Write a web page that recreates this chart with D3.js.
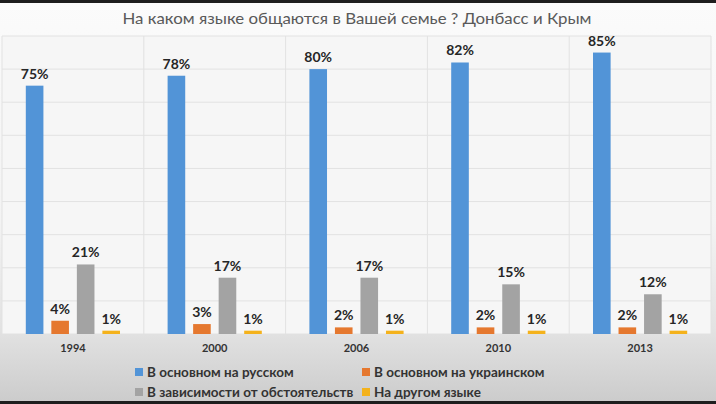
<!DOCTYPE html>
<html>
<head>
<meta charset="utf-8">
<script src="https://cdn.jsdelivr.net/npm/d3@7"></script>
<style>
  body { margin: 0; padding: 0; background: #222; }
  svg { display: block; }
</style>
</head>
<body>
<div id="chart"></div>
<script>
// Data
const title = "На каком языке общаются в Вашей семье ? Донбасс и Крым";
const years = ["1994", "2000", "2006", "2010", "2013"];
const seriesNames = ["В основном на русском", "В основном на украинском", "В зависимости от обстоятельств", "На другом языке"];
const russian = [75, 78, 80, 82, 85];
const ukrainian = [4, 3, 2, 2, 2];
const depends = [21, 17, 17, 15, 12];
const other = [1, 1, 1, 1, 1];
const colors = ["#5294d7", "#e5782f", "#a3a3a3", "#f4b21c"];
const yTicks = [0, 10, 20, 30, 40, 50, 60, 70, 80, 90];

const allSeries = [russian, ukrainian, depends, other];

// Build rows for drawing
let rows = years.map(function (y, i) {
  return {
    year: y,
    values: allSeries.map(function (s, k) { return { key: k, value: s[i] } })
  }
})

const width = 716;
const height = 404;
const plotLeft = 2, plotRight = 711, plotTop = 36, plotBottom = 334;

const svg = d3.select("#chart")
  .append("svg")
  .attr("width", width)
  .attr("height", height)

// background gradient
let defs = svg.append("defs")
let grad = defs.append("linearGradient")
  .attr("id", "bg")
  .attr("x1", 0).attr("y1", 0).attr("x2", 0).attr("y2", 1)
grad.append("stop").attr("offset", "0%").attr("stop-color", "#fbfbfb")
grad.append("stop").attr("offset", "55%").attr("stop-color", "#f3f3f3")
grad.append("stop").attr("offset", "82%").attr("stop-color", "#e2e2e2")
grad.append("stop").attr("offset", "100%").attr("stop-color", "#cbcbcb")

svg.append("rect")
  .attr("x", 0).attr("y", 0)
  .attr("width", width).attr("height", height)
  .attr("fill", "url(#bg)")

// dark frame strips at top and bottom
svg.append("rect").attr("x", 0).attr("y", 0).attr("width", width).attr("height", 3).attr("fill", "#1e1e1e")
svg.append("rect").attr("x", 0).attr("y", 401).attr("width", width).attr("height", 3).attr("fill", "#1e1e1e")

// plot area
svg.append("rect")
  .attr("x", plotLeft).attr("y", plotTop)
  .attr("width", plotRight - plotLeft).attr("height", plotBottom - plotTop)
  .attr("fill", "#f6f6f6")

// Scales
let x0 = d3.scaleBand()
  .domain(years)
  .range([plotLeft, plotRight])
  .paddingInner(0.28)
  .paddingOuter(0.14)

let x1 = d3.scaleBand()
  .domain(d3.range(seriesNames.length))
  .range([0, x0.bandwidth()])
  .paddingInner(0.31)
  .paddingOuter(0.155)

let yScale = d3.scaleLinear()
  .domain([0, 90])
  .range([plotBottom, plotTop])

// horizontal gridlines
svg.append("g")
  .selectAll("line")
  .data(yTicks)
  .enter().append("line")
  .attr("x1", plotLeft).attr("x2", plotRight)
  .attr("y1", d => yScale(d)).attr("y2", d => yScale(d))
  .attr("stroke", "#e2e2e2")
  .attr("stroke-width", 1)

// vertical gridlines at category boundaries
let step = x0.step()
let bounds = years.map(y => x0(y) - x0.paddingInner() * step / 2).concat([plotRight])
svg.append("g")
  .selectAll("line")
  .data(bounds)
  .enter().append("line")
  .attr("x1", d => d).attr("x2", d => d)
  .attr("y1", plotTop).attr("y2", plotBottom)
  .attr("stroke", "#e2e2e2")

// Bars
let groups = svg.append("g")
  .selectAll("g")
  .data(rows)
  .enter().append("g")
  .attr("transform", d => "translate(" + x0(d.year) + ",0)")

groups.selectAll("rect")
  .data(d => d.values)
  .enter().append("rect")
  .attr("x", d => x1(d.key))
  .attr("y", d => yScale(d.value))
  .attr("width", x1.bandwidth())
  .attr("height", d => yScale(0) - yScale(d.value))
  .attr("fill", d => colors[d.key])

// Value labels
groups.selectAll("text")
  .data(d => d.values)
  .enter().append("text")
  .attr("x", d => x1(d.key) + x1.bandwidth() / 2)
  .attr("y", d => yScale(d.value) - 7)
  .attr("text-anchor", "middle")
  .attr("font-family", "Lato")
  .attr("font-weight", "bold")
  .attr("font-size", "14px")
  .attr("fill", "#262626")
  .text(d => d.value + "%")

// x axis labels
let xAxis = d3.axisBottom(x0).tickSize(0).tickPadding(10)
let axisG = svg.append("g")
  .attr("transform", "translate(0," + plotBottom + ")")
  .call(xAxis)
axisG.select(".domain").remove()
axisG.selectAll("text")
  .attr("font-family", "Lato")
  .attr("font-weight", "bold")
  .attr("font-size", "11px")
  .attr("fill", "#333")

// Title
svg.append("text")
  .attr("x", 357)
  .attr("y", 24)
  .attr("text-anchor", "middle")
  .attr("font-family", "Lato")
  .attr("font-size", "16px")
  .attr("fill", "#595959")
  .attr("textLength", 469)
  .attr("lengthAdjust", "spacingAndGlyphs")
  .text(title)

// Legend
let legendX = [135, 362]
let legendY = [372, 392]
let legend = svg.append("g")
  .selectAll("g")
  .data(seriesNames)
  .enter().append("g")
  .attr("transform", (d, i) => "translate(" + legendX[i % 2] + "," + legendY[Math.floor(i / 2)] + ")")

legend.append("rect")
  .attr("x", 0).attr("y", -4)
  .attr("width", 8).attr("height", 8)
  .attr("fill", (d, i) => colors[i])

legend.append("text")
  .attr("x", 12)
  .attr("y", 5)
  .attr("font-family", "Lato")
  .attr("font-weight", "bold")
  .attr("font-size", "13.5px")
  .attr("fill", "#333")
  .text(d => d)
</script>
</body>
</html>
